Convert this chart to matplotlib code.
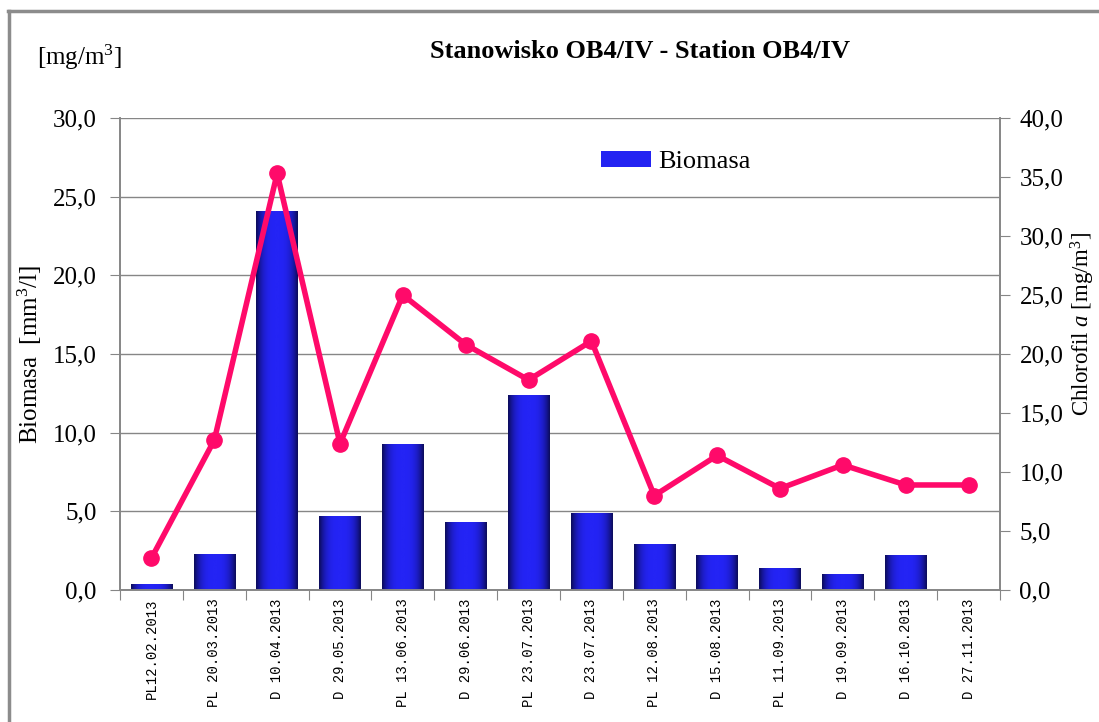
import matplotlib
matplotlib.use("Agg")
import matplotlib.pyplot as plt
import numpy as np
from matplotlib.lines import Line2D

categories = ["PL12.02.2013", "PL 20.03.2013", "D 10.04.2013", "D 29.05.2013",
              "PL 13.06.2013", "D 29.06.2013", "PL 23.07.2013", "D 23.07.2013",
              "PL 12.08.2013", "D 15.08.2013", "PL 11.09.2013", "D 19.09.2013",
              "D 16.10.2013", "D 27.11.2013"]
biomasa = [0.4, 2.3, 24.1, 4.7, 9.3, 4.3, 12.4, 4.9, 2.9, 2.2, 1.4, 1.0, 2.2, 0.0]
chlorofil = [2.7, 12.7, 35.3, 12.4, 25.0, 20.8, 17.8, 21.1, 8.0, 11.4, 8.6, 10.6, 8.9, 8.9]
left_ticks = [0, 5, 10, 15, 20, 25, 30]
right_ticks = [0, 5, 10, 15, 20, 25, 30, 35, 40]

plt.rcParams['font.family'] = ['Liberation Serif', 'DejaVu Serif']
plt.rcParams['mathtext.fontset'] = 'custom'
plt.rcParams['mathtext.rm'] = 'Liberation Serif'
plt.rcParams['mathtext.it'] = 'Liberation Serif:italic'
plt.rcParams['mathtext.bf'] = 'Liberation Serif:bold'

W, H = 1099, 722
fig = plt.figure(figsize=(W / 100, H / 100), dpi=100)
ax = fig.add_axes([120 / W, 1 - 590 / H, 880 / W, 472 / H])
ax2 = ax.twinx()

grey = '#868686'
x = np.arange(len(categories))
bw = 0.66

bars = ax.bar(x, biomasa, width=bw, color='#2323f2', edgecolor='none', zorder=2)

# horizontal gradient shading on bars
grad = np.linspace(-1, 1, 64)
shade = 1 - np.abs(grad) ** 3
cmap = matplotlib.colors.LinearSegmentedColormap.from_list('b', ['#0c0c5a', '#2424f5'])
img = shade[np.newaxis, :]
for b in bars:
    h = b.get_height()
    if h <= 0:
        continue
    x0 = b.get_x()
    im = ax.imshow(img, cmap=cmap, aspect='auto', extent=(x0, x0 + b.get_width(), 0, h),
                   zorder=2.5, interpolation='bicubic')
    im.set_clip_path(b)
ax.set_xlim(-0.5, len(categories) - 0.5)
ax.set_ylim(0, 30)
ax2.set_ylim(0, 40)

ax.set_yticks(left_ticks)
ax.set_yticklabels([f"{v:.1f}".replace('.', ',') for v in left_ticks], fontsize=18)
ax.yaxis.grid(True, color=grey, linewidth=1)
ax.set_axisbelow(True)
ax2.set_yticks(right_ticks)
ax2.set_yticklabels([f"{v:.1f}".replace('.', ',') for v in right_ticks], fontsize=18)

ax2.plot(x, chlorofil, color='#ff0a6a', linewidth=4, marker='o', markersize=11, zorder=4)

ax.set_xticks(np.arange(len(categories) + 1) - 0.5, minor=False)
ax.set_xticklabels([])
ax.set_xticks(x, minor=True)
ax.set_xticklabels(categories, minor=True, rotation=90, fontsize=10, family='Liberation Mono')
ax.tick_params(axis='x', which='minor', length=0, pad=6)
ax.tick_params(axis='x', which='major', length=7, color=grey)
ax.tick_params(axis='y', length=7, color=grey, pad=10)
ax2.tick_params(axis='y', length=7, color=grey, pad=7)

for a in (ax, ax2):
    a.spines['top'].set_visible(False)
    for s in ('left', 'right', 'bottom'):
        a.spines[s].set_color(grey)
        a.spines[s].set_linewidth(1.2)

ax.set_ylabel("Biomasa  [mm$^3$/l]", fontsize=18, labelpad=6)
ax2.set_ylabel("Chlorofil $\\mathit{a}$ [mg/m$^3$]", fontsize=16.5)
ax2.yaxis.set_label_coords((1069 - 120) / 880, 0.565)

fig.text(430 / W, 1 - 52 / H, "Stanowisko OB4/IV - Station OB4/IV", fontsize=19, fontweight='bold',
         va='center', ha='left')
fig.text(37 / W, 1 - 57 / H, "[mg/m$^3$]", fontsize=18, va='center', ha='left')

leg = ax.legend([bars], ["Biomasa"], loc='upper left', bbox_to_anchor=(470 / 880, 1 - 22 / 472),
                frameon=False, fontsize=19, handlelength=1.9, handleheight=0.6,
                handletextpad=0.3, borderaxespad=0)

fig.add_artist(Line2D([8 / W, 1], [1 - 11 / H, 1 - 11 / H], transform=fig.transFigure,
                      color='#8c8c8c', linewidth=2.5))
fig.add_artist(Line2D([9 / W, 9 / W], [1 - 11 / H, 0], transform=fig.transFigure,
                      color='#8c8c8c', linewidth=2.5))

fig.savefig("out.png", dpi=100)
